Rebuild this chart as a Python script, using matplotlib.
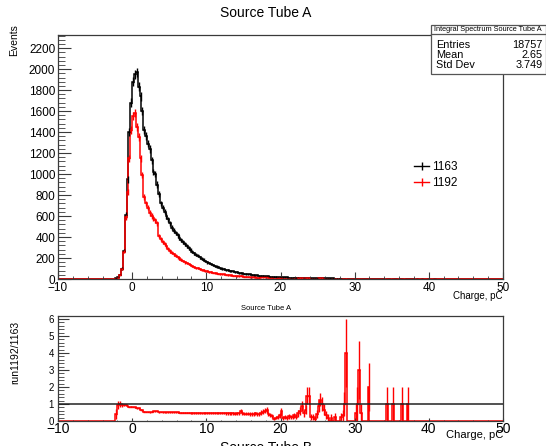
import numpy as np
import matplotlib
matplotlib.use('Agg')
import matplotlib.pyplot as plt
from matplotlib.lines import Line2D
from matplotlib.patches import Rectangle
from matplotlib.ticker import MultipleLocator

plt.rcParams['font.family'] = ['Liberation Sans', 'DejaVu Sans']

# charge spectra, 0.25 pC bins starting at -2.5 pC (rows of 2 pC)
bin_start = -2.5
bin_width = 0.25
counts_1163 = [
    0, 5, 15, 40, 100, 270, 610, 950,
    1400, 1680, 1880, 1950, 1970, 1830, 1740, 1600,
    1420, 1360, 1290, 1240, 1130, 1020, 1000, 900,
    810, 720, 680, 640, 600, 570, 530, 490,
    460, 440, 415, 395, 372, 350, 332, 315,
    296, 280, 262, 246, 232, 220, 206, 195,
    183, 172, 160, 151, 142, 134, 126, 119,
    112, 106, 100, 95, 90, 86, 80, 76,
    72, 68, 64, 60, 57, 54, 51, 48,
    45, 43, 40, 38, 36, 34, 32, 30,
    29, 27, 26, 24, 23, 22, 21, 20,
    19, 18, 17, 16, 16, 15, 14, 14,
    13, 12, 12, 11, 10, 10, 9, 9,
    6, 6, 8, 8, 7, 7, 7, 8,
    6, 6, 6, 5, 5, 5, 5, 4,
    4, 4, 4, 3, 2, 1, 3, 3,
    2, 3, 2, 1, 1, 2, 2, 2,
    1, 1, 2, 1, 2, 1, 1, 2,
    1, 1, 0, 1, 1, 0, 1, 1,
    1, 0, 1, 1, 0, 1, 1, 1,
    1, 1, 0, 1, 0, 0, 1, 0,
    0, 1, 0, 0, 1, 1, 0, 0,
]
counts_1192 = [
    0, 2, 14, 40, 95, 260, 590, 830,
    1150, 1420, 1550, 1580, 1450, 1350, 1150, 990,
    780, 720, 680, 630, 600, 580, 560, 530,
    410, 380, 350, 330, 310, 290, 268, 250,
    236, 222, 208, 197, 185, 172, 160, 152,
    143, 134, 124, 115, 108, 101, 94, 88,
    84, 78, 73, 68, 65, 61, 57, 54,
    51, 48, 45, 43, 40, 38, 36, 34,
    32, 30, 29, 27, 33, 25, 22, 21,
    19, 18, 17, 16, 16, 14, 14, 15,
    16, 16, 17, 10, 8, 7, 3, 4,
    5, 6, 10, 3, 4, 3, 4, 3,
    3, 4, 3, 5, 6, 9, 4, 6,
    9, 9, 2, 2, 1, 3, 6, 10,
    6, 4, 2, 1, 0, 1, 0, 1,
    0, 0, 1, 1, 2, 4, 0, 0,
    0, 0, 1, 1, 3, 1, 0, 0,
    0, 2, 0, 0, 0, 0, 0, 0,
    0, 0, 0, 1, 0, 0, 1, 0,
    0, 0, 0, 1, 0, 0, 1, 0,
    0, 0, 0, 0, 0, 0, 0, 0,
    0, 0, 0, 0, 0, 0, 0, 0,
]
labels = ['1163', '1192']
stats = [('Entries', '18757'), ('Mean', '2.65'), ('Std Dev', '3.749')]

b = np.array(counts_1163, dtype=float)
r = np.array(counts_1192, dtype=float)
edges = bin_start + bin_width * np.arange(len(b) + 1)
centers = 0.5 * (edges[:-1] + edges[1:])
xmin, xmax = -10, 50
full_edges = np.concatenate([[xmin], edges, [xmax]])

ratio = np.where(b > 0, r / np.where(b > 0, b, 1), 0.0)
ratio_err = np.where(b > 0, np.sqrt(r) / np.where(b > 0, b, 1), 0.0)

W, H = 546, 446
fig = plt.figure(figsize=(W / 100, H / 100), dpi=100)
frame_c = '#3a3a3a'

def fx(px):
    return px / W

def fy(py):
    return 1 - py / H

# ---- top pad
ax = fig.add_axes([fx(58), fy(279), fx(503) - fx(58), fy(35) - fy(279)])
for h, c in ((b, 'k'), (r, 'red')):
    ax.stairs(np.concatenate([[0], h, [0]]), full_edges, color=c, lw=1.1)
    m = h > 0
    ax.errorbar(centers[m], h[m], yerr=np.sqrt(h[m]), xerr=bin_width / 2,
                fmt='none', ecolor=c, elinewidth=1.0, capsize=0)
ax.set_xlim(xmin, xmax)
ax.set_ylim(0, 2325)
ax.xaxis.set_major_locator(MultipleLocator(10))
ax.xaxis.set_minor_locator(MultipleLocator(2))
ax.yaxis.set_major_locator(MultipleLocator(200))
ax.yaxis.set_minor_locator(MultipleLocator(40))
ax.tick_params(which='both', direction='in', top=False, right=False,
               color=frame_c, labelsize=8.5, pad=2)
ax.tick_params(axis='x', which='major', length=5)
ax.tick_params(axis='x', which='minor', length=2.5)
ax.tick_params(axis='y', which='major', length=9.5)
ax.tick_params(axis='y', which='minor', length=5)
for s in ax.spines.values():
    s.set_color(frame_c)
    s.set_linewidth(0.9)

handles = [Line2D([0], [0], color='k', lw=1, marker='|', markersize=6),
           Line2D([0], [0], color='red', lw=1, marker='|', markersize=6)]
ax.legend(handles, labels, loc='center left', bbox_to_anchor=(fx(414), fy(175)),
          bbox_transform=fig.transFigure, frameon=False, fontsize=8.5,
          handlelength=1.3, handletextpad=0.2, labelspacing=0.35,
          borderpad=0, borderaxespad=0)

fig.text(fx(266), fy(13), 'Source Tube A', ha='center', va='center', fontsize=10)
fig.text(fx(14), fy(24), 'Events', rotation=90, ha='center', va='top', fontsize=7.5)
fig.text(fx(503), fy(296), 'Charge, pC', ha='right', va='center', fontsize=7)

# stats box
box_l, box_t, box_b, sep = 431, 25, 74, 34
fig.add_artist(Rectangle((fx(box_l), fy(box_b)), 1 - fx(box_l), fy(box_t) - fy(box_b),
                         transform=fig.transFigure, facecolor='white',
                         edgecolor='#555555', lw=0.9, zorder=10))
fig.add_artist(Line2D([fx(box_l), 1], [fy(sep), fy(sep)], transform=fig.transFigure,
                      color='#555555', lw=0.9, zorder=11))
fig.text(fx(488), fy(29.5), 'Integral Spectrum Source Tube A', ha='center',
         va='center', fontsize=5.3, zorder=12)
for i, (k, v) in enumerate(stats):
    y = fy(44.5 + 10 * i)
    fig.text(fx(436), y, k, ha='left', va='center', fontsize=7.8, zorder=12)
    fig.text(fx(543), y, v, ha='right', va='center', fontsize=7.8, zorder=12)

# ---- ratio pad
ax2 = fig.add_axes([fx(58), fy(421), fx(503) - fx(58), fy(316) - fy(421)])
ax2.stairs(np.concatenate([[0], ratio, [0]]), full_edges, color='red', lw=1.1)
m = r > 0
ax2.errorbar(centers[m], ratio[m], yerr=ratio_err[m], xerr=bin_width / 2,
             fmt='none', ecolor='red', elinewidth=1.0, capsize=0)
ax2.axhline(1, color='#222222', lw=1.1)
ax2.set_xlim(xmin, xmax)
ax2.set_ylim(0, 6.18)
ax2.xaxis.set_major_locator(MultipleLocator(10))
ax2.xaxis.set_minor_locator(MultipleLocator(2))
ax2.yaxis.set_major_locator(MultipleLocator(1))
ax2.yaxis.set_minor_locator(MultipleLocator(0.2))
ax2.tick_params(which='both', direction='in', top=False, right=False, color=frame_c)
ax2.tick_params(axis='x', which='major', length=2, labelsize=10, pad=1)
ax2.tick_params(axis='x', which='minor', length=1)
ax2.tick_params(axis='y', which='major', length=8, labelsize=7, pad=3)
ax2.tick_params(axis='y', which='minor', length=4)
for s in ax2.spines.values():
    s.set_color(frame_c)
    s.set_linewidth(0.9)

fig.text(fx(266), fy(308), 'Source Tube A', ha='center', va='center', fontsize=5.5)
fig.text(fx(15), fy(352), 'run1192/1163', rotation=90, ha='center', va='center', fontsize=7.5)
fig.text(fx(503), fy(430), 'Charge, pC', ha='right', va='top', fontsize=8)
fig.text(fx(266), fy(448), 'Source Tube B', ha='center', va='center', fontsize=10)

fig.savefig('out.png', dpi=100)
